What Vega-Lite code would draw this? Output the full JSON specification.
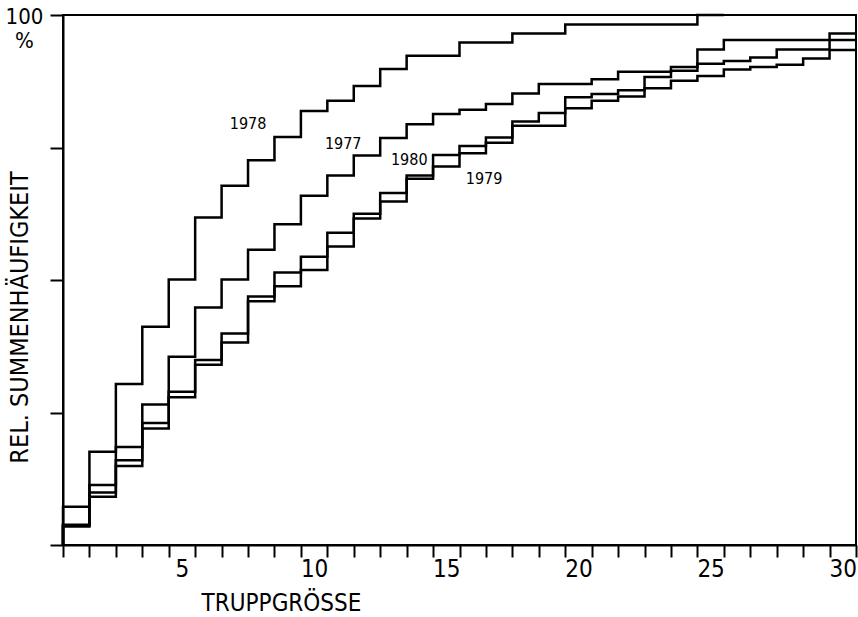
{
  "$schema": "https://vega.github.io/schema/vega-lite/v6.json",
  "width": 793,
  "height": 530,
  "autosize": {"type": "none"},
  "padding": {"left": 63, "top": 15, "right": 2, "bottom": 72},
  "background": "white",
  "config": {
    "view": {"stroke": "black", "strokeWidth": 2},
    "font": "DejaVu Sans Condensed, DejaVu Sans",
    "axis": {"domainColor": "black", "tickColor": "black", "labelColor": "black", "titleColor": "black", "grid": false, "domainWidth": 2, "tickWidth": 2,
             "labelFont": "DejaVu Sans Condensed, DejaVu Sans", "titleFont": "DejaVu Sans Condensed, DejaVu Sans"}
  },
  "datasets": {
    "cdf": [
      {"year": "1977", "size": 0, "pct": 0}, {"year": "1977", "size": 1, "pct": 3.8}, {"year": "1977", "size": 2, "pct": 11.3}, {"year": "1977", "size": 3, "pct": 18.5}, {"year": "1977", "size": 4, "pct": 26.5}, {"year": "1977", "size": 5, "pct": 35.5}, {"year": "1977", "size": 6, "pct": 44.8}, {"year": "1977", "size": 7, "pct": 50.1}, {"year": "1977", "size": 8, "pct": 55.7}, {"year": "1977", "size": 9, "pct": 60.5}, {"year": "1977", "size": 10, "pct": 65.9}, {"year": "1977", "size": 11, "pct": 69.7}, {"year": "1977", "size": 12, "pct": 73.5}, {"year": "1977", "size": 13, "pct": 76.8}, {"year": "1977", "size": 14, "pct": 79.4}, {"year": "1977", "size": 15, "pct": 81.3}, {"year": "1977", "size": 16, "pct": 82.1}, {"year": "1977", "size": 17, "pct": 83.2}, {"year": "1977", "size": 18, "pct": 85.2}, {"year": "1977", "size": 19, "pct": 87.0}, {"year": "1977", "size": 20, "pct": 87.0}, {"year": "1977", "size": 21, "pct": 87.9}, {"year": "1977", "size": 22, "pct": 89.3}, {"year": "1977", "size": 23, "pct": 89.3}, {"year": "1977", "size": 24, "pct": 90.2}, {"year": "1977", "size": 25, "pct": 93.5}, {"year": "1977", "size": 26, "pct": 95.3}, {"year": "1977", "size": 27, "pct": 95.3}, {"year": "1977", "size": 28, "pct": 95.3}, {"year": "1977", "size": 29, "pct": 95.3}, {"year": "1977", "size": 30, "pct": 95.3},
      {"year": "1978", "size": 0, "pct": 0}, {"year": "1978", "size": 1, "pct": 7.2}, {"year": "1978", "size": 2, "pct": 17.6}, {"year": "1978", "size": 3, "pct": 30.4}, {"year": "1978", "size": 4, "pct": 41.2}, {"year": "1978", "size": 5, "pct": 50.1}, {"year": "1978", "size": 6, "pct": 61.8}, {"year": "1978", "size": 7, "pct": 67.8}, {"year": "1978", "size": 8, "pct": 72.6}, {"year": "1978", "size": 9, "pct": 77.0}, {"year": "1978", "size": 10, "pct": 81.9}, {"year": "1978", "size": 11, "pct": 83.8}, {"year": "1978", "size": 12, "pct": 86.6}, {"year": "1978", "size": 13, "pct": 89.8}, {"year": "1978", "size": 14, "pct": 92.3}, {"year": "1978", "size": 15, "pct": 92.3}, {"year": "1978", "size": 16, "pct": 94.8}, {"year": "1978", "size": 17, "pct": 94.8}, {"year": "1978", "size": 18, "pct": 96.5}, {"year": "1978", "size": 19, "pct": 96.5}, {"year": "1978", "size": 20, "pct": 98.2}, {"year": "1978", "size": 21, "pct": 98.2}, {"year": "1978", "size": 22, "pct": 98.2}, {"year": "1978", "size": 23, "pct": 98.2}, {"year": "1978", "size": 24, "pct": 98.2}, {"year": "1978", "size": 25, "pct": 100},
      {"year": "1979", "size": 0, "pct": 0}, {"year": "1979", "size": 1, "pct": 3.5}, {"year": "1979", "size": 2, "pct": 9.1}, {"year": "1979", "size": 3, "pct": 14.9}, {"year": "1979", "size": 4, "pct": 22.0}, {"year": "1979", "size": 5, "pct": 27.9}, {"year": "1979", "size": 6, "pct": 34.0}, {"year": "1979", "size": 7, "pct": 38.2}, {"year": "1979", "size": 8, "pct": 46.0}, {"year": "1979", "size": 9, "pct": 48.8}, {"year": "1979", "size": 10, "pct": 51.9}, {"year": "1979", "size": 11, "pct": 56.3}, {"year": "1979", "size": 12, "pct": 61.6}, {"year": "1979", "size": 13, "pct": 64.8}, {"year": "1979", "size": 14, "pct": 69.1}, {"year": "1979", "size": 15, "pct": 71.4}, {"year": "1979", "size": 16, "pct": 73.9}, {"year": "1979", "size": 17, "pct": 75.9}, {"year": "1979", "size": 18, "pct": 79.1}, {"year": "1979", "size": 19, "pct": 79.1}, {"year": "1979", "size": 20, "pct": 82.4}, {"year": "1979", "size": 21, "pct": 83.8}, {"year": "1979", "size": 22, "pct": 84.6}, {"year": "1979", "size": 23, "pct": 86.2}, {"year": "1979", "size": 24, "pct": 87.6}, {"year": "1979", "size": 25, "pct": 88.5}, {"year": "1979", "size": 26, "pct": 89.7}, {"year": "1979", "size": 27, "pct": 90.2}, {"year": "1979", "size": 28, "pct": 90.6}, {"year": "1979", "size": 29, "pct": 91.8}, {"year": "1979", "size": 30, "pct": 93.4},
      {"year": "1980", "size": 0, "pct": 0}, {"year": "1980", "size": 1, "pct": 3.7}, {"year": "1980", "size": 2, "pct": 9.9}, {"year": "1980", "size": 3, "pct": 16.0}, {"year": "1980", "size": 4, "pct": 23.0}, {"year": "1980", "size": 5, "pct": 28.9}, {"year": "1980", "size": 6, "pct": 34.9}, {"year": "1980", "size": 7, "pct": 39.9}, {"year": "1980", "size": 8, "pct": 46.9}, {"year": "1980", "size": 9, "pct": 51.4}, {"year": "1980", "size": 10, "pct": 54.4}, {"year": "1980", "size": 11, "pct": 58.9}, {"year": "1980", "size": 12, "pct": 62.5}, {"year": "1980", "size": 13, "pct": 66.4}, {"year": "1980", "size": 14, "pct": 69.7}, {"year": "1980", "size": 15, "pct": 73.6}, {"year": "1980", "size": 16, "pct": 75.3}, {"year": "1980", "size": 17, "pct": 76.9}, {"year": "1980", "size": 18, "pct": 79.9}, {"year": "1980", "size": 19, "pct": 81.5}, {"year": "1980", "size": 20, "pct": 84.5}, {"year": "1980", "size": 21, "pct": 85.1}, {"year": "1980", "size": 22, "pct": 85.8}, {"year": "1980", "size": 23, "pct": 88.3}, {"year": "1980", "size": 24, "pct": 89.5}, {"year": "1980", "size": 25, "pct": 90.8}, {"year": "1980", "size": 26, "pct": 91.3}, {"year": "1980", "size": 27, "pct": 92.0}, {"year": "1980", "size": 28, "pct": 93.5}, {"year": "1980", "size": 29, "pct": 93.5}, {"year": "1980", "size": 30, "pct": 96.5}
    ],
    "labels": [
      {"year": "1978", "size": 7.0, "pct": 79.5},
      {"year": "1977", "size": 10.6, "pct": 75.7},
      {"year": "1980", "size": 13.1, "pct": 72.7},
      {"year": "1979", "size": 15.93, "pct": 69.0}
    ]
  },
  "resolve": {"axis": {"x": "independent", "y": "independent"}},
  "layer": [
    {
      "data": {"name": "cdf"},
      "mark": {"type": "line", "interpolate": "step-before", "color": "black", "strokeWidth": 2.5},
      "encoding": {
        "x": {"field": "size", "type": "quantitative", "scale": {"domain": [0, 30], "nice": false, "zero": false},
              "axis": {"values": [0,1,2,3,4,5,6,7,8,9,10,11,12,13,14,15,16,17,18,19,20,21,22,23,24,25,26,27,28,29,30], "labels": false, "tickSize": 12, "title": null, "orient": "bottom"}},
        "y": {"field": "pct", "type": "quantitative", "scale": {"domain": [0, 100], "nice": false},
              "axis": {"orient": "left", "values": [0, 25, 50, 75, 100], "tickSize": 13, "labelExpr": "datum.value == 100 ? ['100', '%'] : ''", "labelFontSize": 22, "labelBaseline": "middle", "labelPadding": 26, "labelAlign": "center", "labelLineHeight": 24, "labelOffset": 1,
                       "title": "REL. SUMMENHÄUFIGKEIT", "titleFontSize": 25, "titleFontWeight": "normal", "titleX": -44, "titleY": 302, "titleAngle": -90, "titleBaseline": "middle"}},
        "detail": {"field": "year"}
      }
    },
    {
      "data": {"name": "labels"},
      "mark": {"type": "text", "fontSize": 16, "color": "black", "align": "center", "baseline": "middle"},
      "encoding": {
        "x": {"field": "size", "type": "quantitative",
              "axis": {"values": [4.5, 9.5, 14.5, 19.5, 24.5, 29.5], "ticks": false, "domain": false, "labelExpr": "datum.value + 0.5", "labelFontSize": 24, "labelPadding": 12,
                       "title": "TRUPPGRÖSSE", "titleFontSize": 24, "titleFontWeight": "normal", "titleX": 218, "titleY": 58, "titleBaseline": "middle", "orient": "bottom"}},
        "y": {"field": "pct", "type": "quantitative", "axis": {"orient": "left", "domain": false, "ticks": false, "labels": false, "title": null}},
        "text": {"field": "year"}
      }
    }
  ]
}
